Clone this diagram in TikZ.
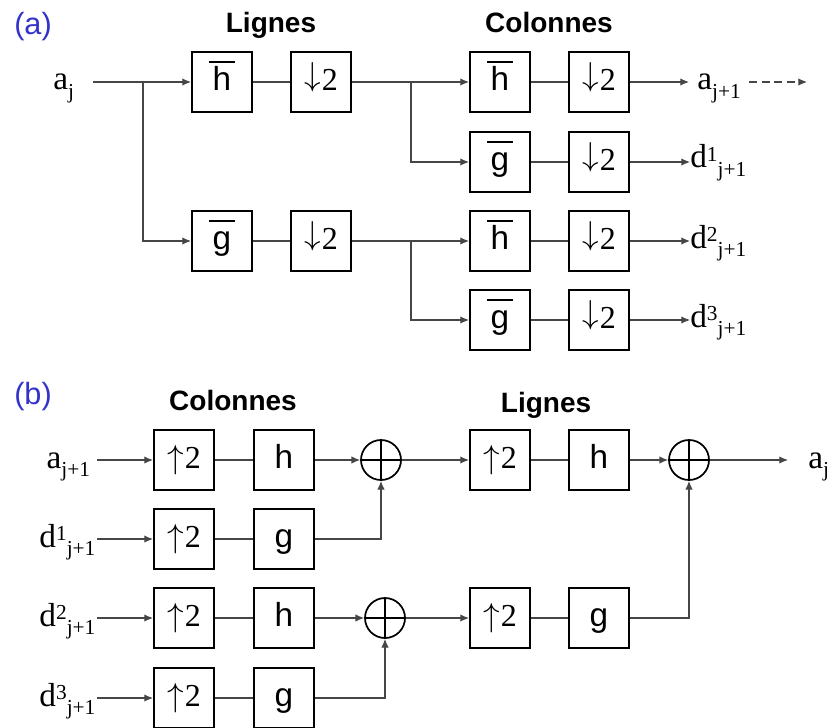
\documentclass[tikz,border=0pt]{standalone}
\usepackage{fontspec}
\setmainfont{Liberation Serif}
\newfontfamily\arial{Liberation Sans}
\usetikzlibrary{arrows.meta}
\definecolor{partblue}{RGB}{51,51,204}
\definecolor{wirecol}{RGB}{70,70,70}
\newcommand\barred[1]{\makebox[0pt]{#1}\makebox[0pt]{\rule[20.5pt]{19pt}{1.7pt}}}
\newcommand\scrtxt[1]{{\fontsize{16}{16}\selectfont #1}}
\newcommand\lowtxt[1]{\raisebox{-6.5pt}{\scrtxt{#1}}}
\newcommand\hightxt[1]{\raisebox{5pt}{\scrtxt{#1}}}
\newcommand\dn{\raisebox{4pt}{$\downarrow$}\kern1pt 2}
\newcommand\up{\raisebox{0pt}{$\uparrow$}\kern1pt 2}
\begin{document}
\begin{tikzpicture}[x=0.75pt,y=-0.75pt,
  blk/.style={draw=black, line width=1.5pt, minimum width=45pt, minimum height=45pt,
    inner sep=0pt, text height=15pt, text depth=2pt, font=\arial\fontsize{25}{25}\selectfont},
  smp/.style={draw=black, line width=1.5pt, minimum width=45pt, minimum height=45pt,
    inner sep=0pt, text height=15pt, text depth=2pt, font=\fontsize{24}{24}\selectfont},
  sum/.style={circle, draw=black, line width=1.3pt, minimum size=30pt, inner sep=0pt},
  wire/.style={draw=wirecol, line width=0.8pt},
  arr/.style={wire, -{Latex[length=6.5pt,width=5.5pt]}},
  sig/.style={font=\fontsize{25}{25}\selectfont, inner sep=0pt},
  ttl/.style={font=\arial\bfseries\fontsize{21}{21}\selectfont, anchor=base},
  part/.style={font=\arial\fontsize{23}{23}\selectfont, text=partblue},
]
\useasboundingbox (0,0) rectangle (830,727);

% ---------------- (a) ----------------
\node[part] (pa) at (33,27) {(a)};
\node[ttl] (ta1) at (271,33) {Lignes};
\node[ttl] (ta2) at (549,33) {Colonnes};

\node[sig, anchor=base west] (aj) at (53,90) {a\lowtxt{j}};
\coordinate (s0) at (93,82);
\coordinate (b1) at (143,82);

\node[blk] (hA) at (222,82) {\barred{h}};
\node[smp] (dA) at (321,82) {\dn};
\node[blk] (gA) at (222,241) {\barred{g}};
\node[smp] (dB) at (321,241) {\dn};

\coordinate (b2) at (411,82);
\coordinate (b3) at (411,241);

\node[blk] (hC) at (500,82) {\barred{h}};
\node[smp] (dC) at (599,82) {\dn};
\node[blk] (gC) at (500,162) {\barred{g}};
\node[smp] (dD) at (599,162) {\dn};
\node[blk] (hE) at (500,241) {\barred{h}};
\node[smp] (dE) at (599,241) {\dn};
\node[blk] (gE) at (500,320) {\barred{g}};
\node[smp] (dF) at (599,320) {\dn};

\node[sig, anchor=base west, inner xsep=6pt] (aj1) at (689,90) {a\lowtxt{j+1}};
\coordinate (e1) at (807,82);
\node[sig, anchor=base west] (d1) at (690,168) {d\hightxt{1}\lowtxt{j+1}};
\node[sig, anchor=base west] (d2) at (690,248) {d\hightxt{2}\lowtxt{j+1}};
\node[sig, anchor=base west] (d3) at (690,327) {d\hightxt{3}\lowtxt{j+1}};

\draw[arr] (s0) -- (hA);
\draw[arr] (b1) |- (gA);
\draw[wire] (hA) -- (dA);
\draw[wire] (gA) -- (dB);
\draw[arr] (dA) -- (hC);
\draw[arr] (b2) |- (gC);
\draw[arr] (dB) -- (hE);
\draw[arr] (b3) |- (gE);
\draw[wire] (hC) -- (dC);
\draw[wire] (gC) -- (dD);
\draw[wire] (hE) -- (dE);
\draw[wire] (gE) -- (dF);
\draw[arr] (dC) -- (dC -| aj1.west);
\draw[arr, dash pattern=on 6pt off 3.5pt] (aj1.east |- dC) -- (e1);
\draw[arr] (dD) -- (dD -| d1.west);
\draw[arr] (dE) -- (dE -| d2.west);
\draw[arr] (dF) -- (dF -| d3.west);

% ---------------- (b) ----------------
\node[part] (pb) at (33,397) {(b)};
\node[ttl] (tb1) at (233,410) {Colonnes};
\node[ttl] (tb2) at (546,412) {Lignes};

\node[sig, anchor=base east, inner xsep=5pt] (la) at (97,468) {a\lowtxt{j+1}};
\node[sig, anchor=base east, inner xsep=1pt] (l1) at (97,547) {d\hightxt{1}\lowtxt{j+1}};
\node[sig, anchor=base east, inner xsep=1pt] (l2) at (97,626) {d\hightxt{2}\lowtxt{j+1}};
\node[sig, anchor=base east, inner xsep=1pt] (l3) at (97,706) {d\hightxt{3}\lowtxt{j+1}};

\node[smp] (u1) at (184,460) {\up};
\node[blk] (f1) at (284,460) {h};
\node[smp] (u2) at (184,539) {\up};
\node[blk] (f2) at (284,539) {g};
\node[smp] (u3) at (184,618) {\up};
\node[blk] (f3) at (284,618) {h};
\node[smp] (u4) at (184,698) {\up};
\node[blk] (f4) at (284,698) {g};

\node[sum] (s1) at (381,460) {};
\node[sum] (s2) at (385,618) {};
\foreach \s in {s1,s2} {
  \draw[black, line width=1pt] (\s.north) -- (\s.south) (\s.west) -- (\s.east);
}

\node[smp] (u5) at (500,460) {\up};
\node[blk] (f5) at (599,460) {h};
\node[smp] (u6) at (500,618) {\up};
\node[blk] (f6) at (599,618) {g};
\node[sum] (s3) at (689,460) {};
\draw[black, line width=1pt] (s3.north) -- (s3.south) (s3.west) -- (s3.east);

\node[sig, anchor=base west] (ajo) at (808,468) {a\lowtxt{j}};
\coordinate (e2) at (788,460);

\draw[arr] (la.east |- u1) -- (u1);
\draw[arr] (l1.east |- u2) -- (u2);
\draw[arr] (l2.east |- u3) -- (u3);
\draw[arr] (l3.east |- u4) -- (u4);
\draw[wire] (u1) -- (f1);
\draw[wire] (u2) -- (f2);
\draw[wire] (u3) -- (f3);
\draw[wire] (u4) -- (f4);
\draw[arr] (f1) -- (s1);
\draw[arr] (f2) -| (s1);
\draw[arr] (f3) -- (s2);
\draw[arr] (f4) -| (s2);
\draw[arr] (s1) -- (u5);
\draw[arr] (s2) -- (u6);
\draw[wire] (u5) -- (f5);
\draw[wire] (u6) -- (f6);
\draw[arr] (f5) -- (s3);
\draw[arr] (f6) -| (s3);
\draw[arr] (s3) -- (e2);
\end{tikzpicture}
\end{document}
